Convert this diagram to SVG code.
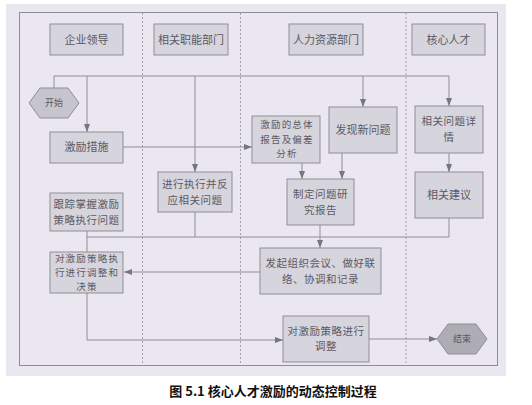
<svg xmlns="http://www.w3.org/2000/svg" width="532" height="405" viewBox="0 0 532 405">
<defs>
<marker id="ah" markerWidth="8" markerHeight="6" refX="8" refY="3" orient="auto" markerUnits="userSpaceOnUse">
<path d="M0,0 L8,3 L0,6 Z" fill="#77757f"/>
</marker>
<style>
.box{fill:#d6d4dc;stroke:#8f8d97;stroke-width:1}
.t{font-family:"Noto Sans CJK SC","Noto Sans CJK JP",sans-serif;font-size:11px;fill:#5b5963;text-anchor:middle}
.t2{font-family:"Noto Sans CJK SC","Noto Sans CJK JP",sans-serif;font-size:10.5px;letter-spacing:0.5px;fill:#5b5963;text-anchor:middle}
.t3{font-family:"Noto Sans CJK SC","Noto Sans CJK JP",sans-serif;font-size:9.5px;letter-spacing:1.2px;fill:#5b5963;text-anchor:middle}
.ts{font-family:"Noto Sans CJK SC","Noto Sans CJK JP",sans-serif;font-size:9px;fill:#5b5963;text-anchor:middle}
.ln{fill:none;stroke:#8f8d97;stroke-width:1}
.lane{stroke:#a3a1ab;stroke-width:1;stroke-dasharray:2,2}
</style>
</defs>
<rect x="0" y="0" width="532" height="405" fill="#ffffff"/>
<rect x="6" y="4" width="500" height="372" fill="#eae7f0"/>
<rect x="19.5" y="12.5" width="478" height="353" fill="none" stroke="#8f8d97" stroke-width="1"/>
<g id="lanes">
<line class="lane" x1="142.5" y1="13" x2="142.5" y2="365"/>
<line class="lane" x1="240.5" y1="13" x2="240.5" y2="365"/>
<line class="lane" x1="406" y1="13" x2="406" y2="365"/>
</g>
<g id="connectors">
<polyline class="ln" points="54,88 54,76 449,76"/>
<line class="ln" x1="87" y1="76" x2="87" y2="132" marker-end="url(#ah)"/>
<line class="ln" x1="195" y1="76" x2="195" y2="172" marker-end="url(#ah)"/>
<line class="ln" x1="363" y1="76" x2="363" y2="107" marker-end="url(#ah)"/>
<line class="ln" x1="449" y1="76" x2="449" y2="106" marker-end="url(#ah)"/>
<line class="ln" x1="123" y1="147" x2="252" y2="147" marker-end="url(#ah)"/>
<line class="ln" x1="302" y1="163" x2="302" y2="179" marker-end="url(#ah)"/>
<line class="ln" x1="342" y1="153" x2="342" y2="179" marker-end="url(#ah)"/>
<line class="ln" x1="449" y1="153" x2="449" y2="172" marker-end="url(#ah)"/>
<polyline class="ln" points="449,218 449,237 87,237"/>
<line class="ln" x1="87" y1="231" x2="87" y2="252"/>
<line class="ln" x1="195" y1="212" x2="195" y2="237"/>
<line class="ln" x1="320" y1="225" x2="320" y2="248" marker-end="url(#ah)"/>
<line class="ln" x1="260" y1="272" x2="124" y2="272" marker-end="url(#ah)"/>
<polyline class="ln" points="87,293 87,340 283,340" marker-end="url(#ah)"/>
<line class="ln" x1="369" y1="339" x2="437" y2="339" marker-end="url(#ah)"/>
</g>
<g id="h1"><rect class="box" x="50" y="24" width="73" height="31"/><text class="t" x="86.5" y="44">企业领导</text></g>
<g id="h2"><rect class="box" x="154" y="24" width="74" height="31"/><text class="t" x="191" y="44">相关职能部门</text></g>
<g id="h3"><rect class="box" x="289" y="24" width="74" height="31"/><text class="t" x="326" y="44">人力资源部门</text></g>
<g id="h4"><rect class="box" x="412" y="24" width="73" height="31"/><text class="t" x="448.5" y="44">核心人才</text></g>
<g id="start"><polygon points="29,103 40,88 68,88 79,103 68,118 40,118" fill="#c6c4cc" stroke="#8f8d97" stroke-width="1"/><text class="ts" x="54" y="106">开始</text></g>
<g id="n1"><rect class="box" x="50" y="132" width="73" height="31"/><text class="t" x="86.5" y="151">激励措施</text></g>
<g id="n2"><rect class="box" x="252" y="116" width="68" height="47"/><text class="t3" x="287" y="128">激励的总体</text><text class="t3" x="287" y="142.5">报告及偏差</text><text class="t3" x="287" y="157">分析</text></g>
<g id="n3"><rect class="box" x="329" y="107" width="68" height="46"/><text class="t" x="363" y="134">发现新问题</text></g>
<g id="n4"><rect class="box" x="415" y="106" width="68" height="47"/><text class="t2" x="449" y="125">相关问题详</text><text class="t2" x="449" y="140.5">情</text></g>
<g id="n5"><rect class="box" x="158" y="172" width="74" height="40"/><text class="t2" x="195" y="188">进行执行并反</text><text class="t2" x="195" y="203.5">应相关问题</text></g>
<g id="n6"><rect class="box" x="287" y="179" width="67" height="46"/><text class="t2" x="320.5" y="198">制定问题研</text><text class="t2" x="320.5" y="213.5">究报告</text></g>
<g id="n7"><rect class="box" x="415" y="172" width="68" height="46"/><text class="t" x="449" y="199">相关建议</text></g>
<g id="n8"><rect class="box" x="50" y="193" width="73" height="38"/><text class="t2" x="86.5" y="208">跟踪掌握激励</text><text class="t2" x="86.5" y="223.5">策略执行问题</text></g>
<g id="n9"><rect class="box" x="50" y="252" width="73" height="41"/><text class="t3" x="87" y="262">对激励策略执</text><text class="t3" x="87" y="276">行进行调整和</text><text class="t3" x="87" y="290">决策</text></g>
<g id="n10"><rect class="box" x="260" y="248" width="121" height="46"/><text class="t2" x="320.5" y="267">发起组织会议、做好联</text><text class="t2" x="320.5" y="282.5">络、协调和记录</text></g>
<g id="n11"><rect class="box" x="283" y="316" width="86" height="46"/><text class="t2" x="326" y="334.5">对激励策略进行</text><text class="t2" x="326" y="350">调整</text></g>
<g id="end"><polygon points="437,339 448,324 476,324 487,339 476,354 448,354" fill="#aeacb5" stroke="#8f8d97" stroke-width="1"/><text class="ts" x="462" y="342">结束</text></g>
<text x="273" y="396" font-family="Noto Sans CJK SC, sans-serif" font-size="13" font-weight="bold" fill="#111111" text-anchor="middle">图 5.1 核心人才激励的动态控制过程</text>
</svg>
